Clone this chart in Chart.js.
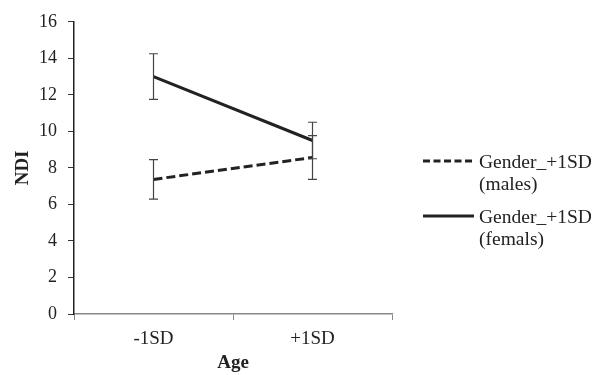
<!DOCTYPE html>
<html>
<head>
<meta charset="utf-8">
<script src="https://cdn.jsdelivr.net/npm/chart.js@4/dist/chart.umd.min.js"></script>
<style>
html,body{margin:0;padding:0;background:#fff;}
#wrap{width:602px;height:375px;position:relative;}
</style>
</head>
<body>
<div id="wrap"><canvas id="c" width="602" height="375"></canvas></div>
<script>
const categories = ['-1SD', '+1SD'];
const malesValues = [7.37, 8.57];
const femalesValues = [13.0, 9.5];
const malesErr = [1.08, 1.2];
const femalesErr = [1.25, 1.0];
const seriesLabels = [['Gender_+1SD', '(males)'], ['Gender_+1SD', '(femals)']];
const yTicks = [0, 2, 4, 6, 8, 10, 12, 14, 16];

const FONT = '"Liberation Serif", "Times New Roman", serif';
const TXT = '#222';

const errorBars = {
  id: 'errorBars',
  afterDatasetsDraw(chart) {
    const {ctx, scales: {x, y}} = chart;
    const errs = [malesErr, femalesErr];
    ctx.save();
    ctx.strokeStyle = '#444';
    ctx.lineWidth = 1.2;
    chart.data.datasets.forEach((ds, di) => {
      ds.data.forEach((v, i) => {
        const px = x.getPixelForValue(i);
        const hi = y.getPixelForValue(v + errs[di][i]);
        const lo = y.getPixelForValue(v - errs[di][i]);
        ctx.beginPath();
        ctx.moveTo(px, hi); ctx.lineTo(px, lo);
        ctx.moveTo(px - 4.5, hi); ctx.lineTo(px + 4.5, hi);
        ctx.moveTo(px - 4.5, lo); ctx.lineTo(px + 4.5, lo);
        ctx.stroke();
      });
    });
    ctx.restore();
  }
};

const customLegend = {
  id: 'customLegend',
  afterDraw(chart) {
    const {ctx} = chart;
    const entries = [{y: 161}, {y: 216}];
    ctx.save();
    chart.data.datasets.forEach((ds, i) => {
      const ly = entries[i].y;
      ctx.strokeStyle = ds.borderColor;
      ctx.lineWidth = ds.borderWidth;
      ctx.setLineDash(ds.borderDash ? [7, 3.5] : []);
      ctx.beginPath();
      ctx.moveTo(423, ly); ctx.lineTo(474, ly);
      ctx.stroke();
      ctx.setLineDash([]);
      ctx.fillStyle = TXT;
      ctx.font = '19.5px ' + FONT;
      ctx.textBaseline = 'alphabetic';
      ctx.textAlign = 'left';
      const lines = seriesLabels[i];
      lines.forEach((t, k) => {
        ctx.fillText(t, 479, ly + 7 + k * 22);
      });
    });
    ctx.restore();
  }
};

new Chart(document.getElementById('c'), {
  type: 'line',
  data: {
    labels: categories,
    datasets: [
      {
        label: 'Gender_+1SD (males)',
        data: malesValues,
        borderColor: '#222',
        borderWidth: 3,
        borderDash: [9, 4],
        pointRadius: 0,
        tension: 0,
        fill: false
      },
      {
        label: 'Gender_+1SD (femals)',
        data: femalesValues,
        borderColor: '#222',
        borderWidth: 3,
        pointRadius: 0,
        tension: 0,
        fill: false
      }
    ]
  },
  options: {
    responsive: false,
    animation: false,
    devicePixelRatio: 1,
    layout: {padding: {top: 18, right: 210, left: 0, bottom: 0}},
    plugins: {
      legend: {display: false},
      tooltip: {enabled: false}
    },
    scales: {
      x: {
        offset: true,
        grid: {
          offset: true,
          drawOnChartArea: false,
          drawTicks: true,
          tickLength: 6,
          color: '#888',
          lineWidth: 1
        },
        border: {color: '#888', width: 1.5},
        ticks: {
          color: TXT,
          font: {family: FONT, size: 19},
          padding: 8,
          maxRotation: 0
        },
        title: {
          display: true,
          text: 'Age',
          color: TXT,
          font: {family: FONT, size: 19, weight: 'bold'},
          padding: {top: 0, bottom: 1}
        },
        afterFit(scale) { scale.height = 61; }
      },
      y: {
        min: 0,
        max: 16,
        afterBuildTicks(scale) { scale.ticks = yTicks.map(v => ({value: v})); },
        grid: {
          drawOnChartArea: false,
          drawTicks: true,
          tickLength: 6,
          color: '#333',
          lineWidth: 1
        },
        border: {color: '#222', width: 1.5},
        ticks: {
          color: TXT,
          font: {family: FONT, size: 18},
          padding: 11
        },
        title: {
          display: true,
          text: 'NDI',
          color: TXT,
          font: {family: FONT, size: 19, weight: 'bold'},
          padding: {top: 12, bottom: 0}
        },
        afterFit(scale) { scale.width = 74; }
      }
    }
  },
  plugins: [errorBars, customLegend]
});
</script>
</body>
</html>
